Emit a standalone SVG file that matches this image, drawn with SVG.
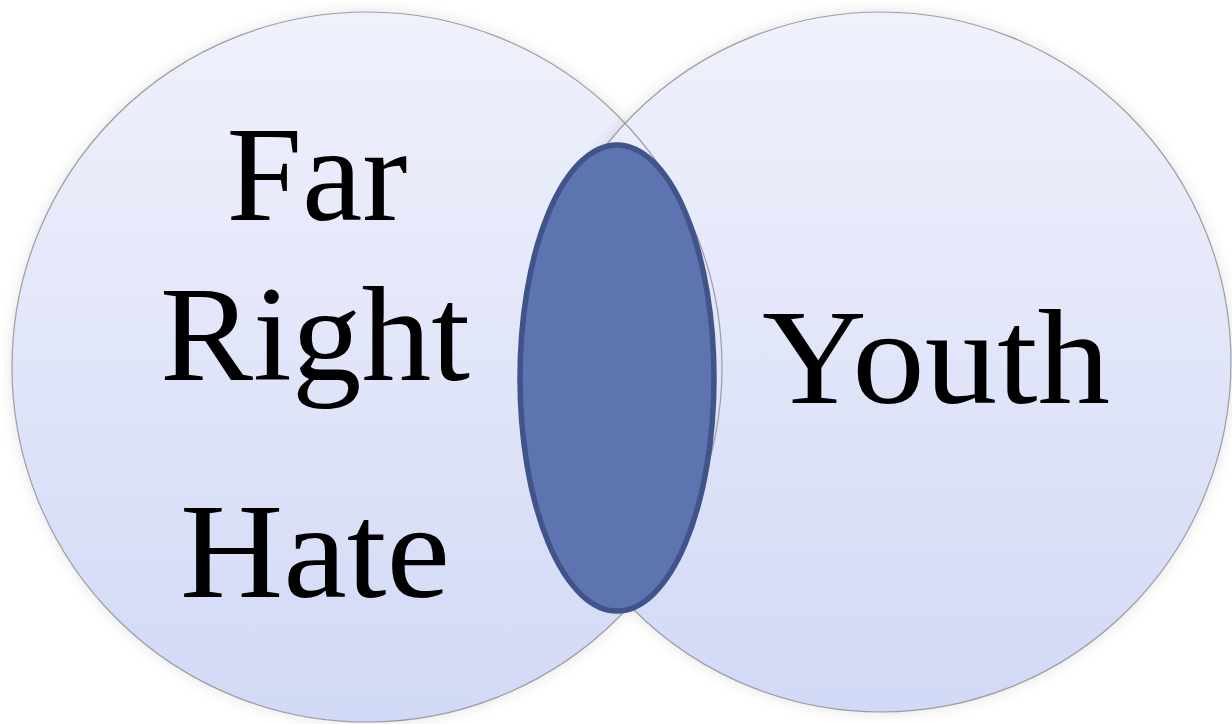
<svg xmlns="http://www.w3.org/2000/svg" width="1232" height="724" viewBox="0 0 1232 724">
<defs>
<linearGradient id="g" x1="0" y1="0" x2="0" y2="1">
<stop offset="0" stop-color="#eff1fb"/>
<stop offset="1" stop-color="#d2d9f6"/>
</linearGradient>
<filter id="sh" x="-10%" y="-10%" width="120%" height="120%">
<feGaussianBlur in="SourceAlpha" stdDeviation="8"/>
<feOffset dx="0" dy="0"/>
<feComponentTransfer><feFuncA type="linear" slope="0.12"/></feComponentTransfer>
<feMerge><feMergeNode/><feMergeNode in="SourceGraphic"/></feMerge>
</filter>
</defs>
<style>
.fill{fill:url(#g);}
.edge{fill:none;stroke:#9c9ca6;stroke-width:1.2;}
.lbl{font-family:"Liberation Serif","Times New Roman",serif;font-size:135px;fill:#000;text-anchor:middle;}
</style>
<rect width="1232" height="724" fill="#ffffff"/>
<g id="left-circle">
<circle class="fill" cx="367" cy="367" r="355" filter="url(#sh)"/>
</g>
<g id="right-circle">
<circle class="fill" cx="881" cy="362" r="350" filter="url(#sh)"/>
</g>
<g id="edges">
<circle class="edge" cx="367" cy="367" r="355"/>
<circle class="edge" cx="881" cy="362" r="350"/>
</g>
<g id="overlap">
<ellipse cx="617" cy="378" rx="97" ry="233" fill="#5d74b1" stroke="#41548a" stroke-width="5.5"/>
</g>
<g id="labels">
<text class="lbl" x="317" y="220" textLength="181" lengthAdjust="spacingAndGlyphs">Far</text>
<text class="lbl" x="315" y="380" textLength="310" lengthAdjust="spacingAndGlyphs">Right</text>
<text class="lbl" x="315" y="597" textLength="270" lengthAdjust="spacingAndGlyphs">Hate</text>
<text class="lbl" x="936" y="403" textLength="348" lengthAdjust="spacingAndGlyphs">Youth</text>
</g>
<g id="connectors"/>
</svg>
